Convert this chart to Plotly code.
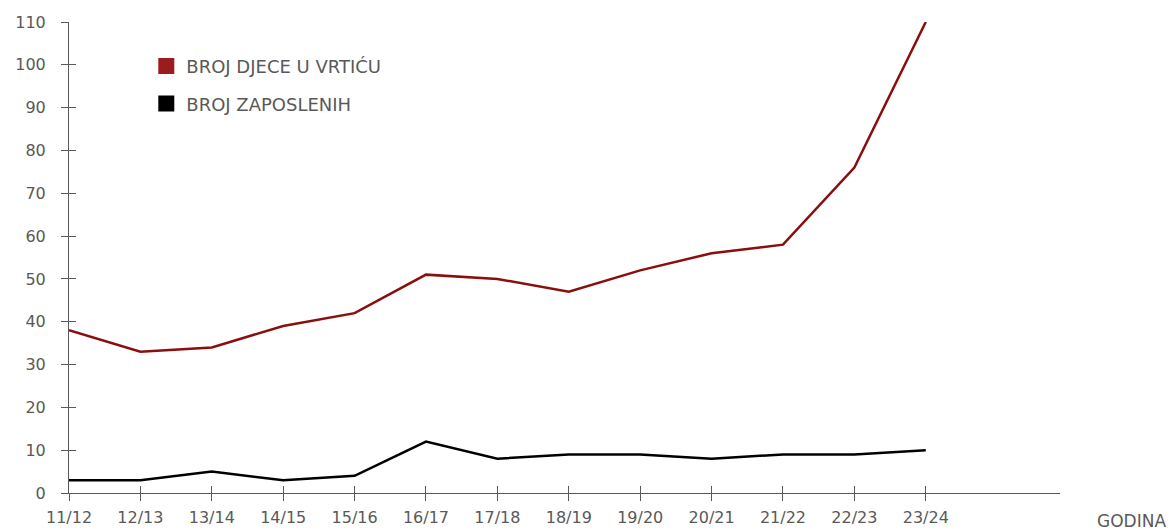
import plotly.graph_objects as go

years = ["11/12", "12/13", "13/14", "14/15", "15/16", "16/17", "17/18",
         "18/19", "19/20", "20/21", "21/22", "22/23", "23/24"]
djeca = [38, 33, 34, 39, 42, 51, 50, 47, 52, 56, 58, 76, 110]
zaposleni = [3, 3, 5, 3, 4, 12, 8, 9, 9, 8, 9, 9, 10]
name_djeca = "BROJ DJECE U VRTIĆU"
name_zap = "BROJ ZAPOSLENIH"

RED_LINE = "#8B0E0E"
RED_SQ = "#9B1B1F"
AX = "#595959"
FONT = "DejaVu Sans, sans-serif"
FS = 16

fig = go.Figure()
fig.add_trace(go.Scatter(x=years, y=djeca, mode="lines", line=dict(color=RED_LINE, width=2.5),
                         showlegend=False, name=name_djeca))
fig.add_trace(go.Scatter(x=years, y=zaposleni, mode="lines", line=dict(color="#000000", width=2.5),
                         showlegend=False, name=name_zap))
fig.add_trace(go.Scatter(x=[None], y=[None], mode="markers", name=name_djeca, legendgroup="a",
                         marker=dict(symbol="square", size=18, color=RED_SQ)))
fig.add_trace(go.Scatter(x=[None], y=[None], mode="markers", name=name_zap, legendgroup="b",
                         marker=dict(symbol="square", size=18, color="#000000")))
# transparent trace on overlay axes so the inner halves of the crossing ticks are drawn
fig.add_trace(go.Scatter(x=years, y=djeca, mode="lines", line=dict(width=1, color="rgba(0,0,0,0)"),
                         showlegend=False, hoverinfo="skip", xaxis="x2", yaxis="y2"))

xrange = [0, 13.88]
yrange = [0, 110]

fig.update_layout(
    width=1173, height=531,
    margin=dict(l=69, r=113, t=22, b=38, autoexpand=False),
    paper_bgcolor="white", plot_bgcolor="white",
    font=dict(family=FONT, size=FS, color=AX),
    showlegend=True,
    legend=dict(x=0.078, y=0.945, xanchor="left", yanchor="top",
                font=dict(size=18, color=AX), bgcolor="rgba(0,0,0,0)",
                tracegroupgap=11, itemwidth=30),
    xaxis=dict(type="category", categoryorder="array", categoryarray=years,
               range=xrange, showgrid=False, zeroline=False, automargin=False,
               showline=True, linecolor=AX, linewidth=1,
               ticks="outside", ticklen=7, tickcolor=AX, tickwidth=1,
               tickfont=dict(size=FS, color=AX), ticklabelstandoff=3),
    yaxis=dict(range=yrange, tickvals=list(range(0, 111, 10)), automargin=False,
               showgrid=False, zeroline=False,
               showline=True, linecolor=AX, linewidth=1,
               ticks="outside", ticklen=7, tickcolor=AX, tickwidth=1,
               tickfont=dict(size=FS, color=AX), ticklabelstandoff=12),
    xaxis2=dict(type="category", categoryorder="array", categoryarray=years,
                range=xrange, overlaying="x", anchor="y2", side="bottom", automargin=False,
                showgrid=False, zeroline=False,
                showline=False, ticks="inside", ticklen=7, tickcolor=AX, tickwidth=1,
                showticklabels=False),
    yaxis2=dict(range=yrange, tickvals=list(range(0, 111, 10)), overlaying="y",
                anchor="x2", side="left", automargin=False,
                showgrid=False, zeroline=False, showline=False,
                ticks="inside", ticklen=7, tickcolor=AX, tickwidth=1, showticklabels=False),
    annotations=[dict(text="GODINA", xref="paper", yref="paper", x=1.109, y=-0.035,
                      xanchor="right", yanchor="top", showarrow=False,
                      font=dict(size=17, color=AX))],
)

fig.write_html("out.html", post_script="document.body.style.margin='0px';",
               config={"displayModeBar": False})
